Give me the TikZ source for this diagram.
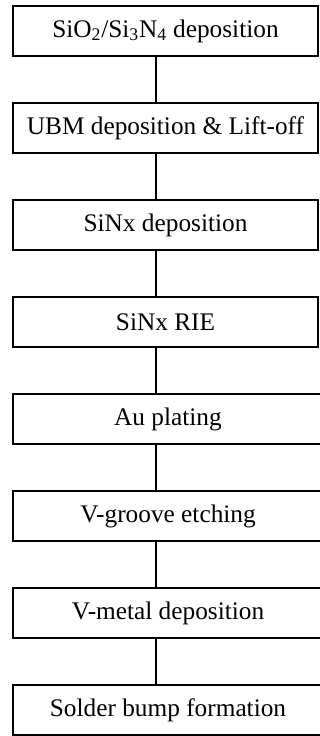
\documentclass[tikz,border=0pt]{standalone}
\usepackage{fontspec}
\setmainfont{Liberation Serif}
\usepackage{tikz}
\usetikzlibrary{positioning}

\newcommand{\sionlabel}{SiO\textsubscript{2}/Si\textsubscript{3}N\textsubscript{4} deposition}

\begin{document}
\begin{tikzpicture}[x=0.025cm, y=-0.025cm,
    stepbox/.style={draw, line width=1.4pt, minimum height=1.25cm,
                    inner sep=0pt, font=\fontsize{18}{20}\selectfont},
    link/.style={line width=1.6pt}]
    \useasboundingbox (0,0) rectangle (320,736);

    % Process steps (lower boxes run off the right edge)
    \foreach \i/\w/\txt in {0/305/\sionlabel, 1/305/UBM deposition \& Lift-off,
                            2/305/SiNx deposition, 3/305/SiNx RIE, 4/310/Au plating,
                            5/310/V-groove etching, 6/310/V-metal deposition,
                            7/310/Solder bump formation} {
        \node[stepbox, minimum width=\w*0.025cm] (s\i) at (13+\w/2, 31+97*\i) {\txt};
    }

    % Connecting lines
    \foreach \i/\j in {0/1, 1/2, 2/3, 3/4, 4/5, 5/6, 6/7} {
        \draw[link] (s\i.south -| 156,0) -- (s\j.north -| 156,0);
    }
\end{tikzpicture}
\end{document}
